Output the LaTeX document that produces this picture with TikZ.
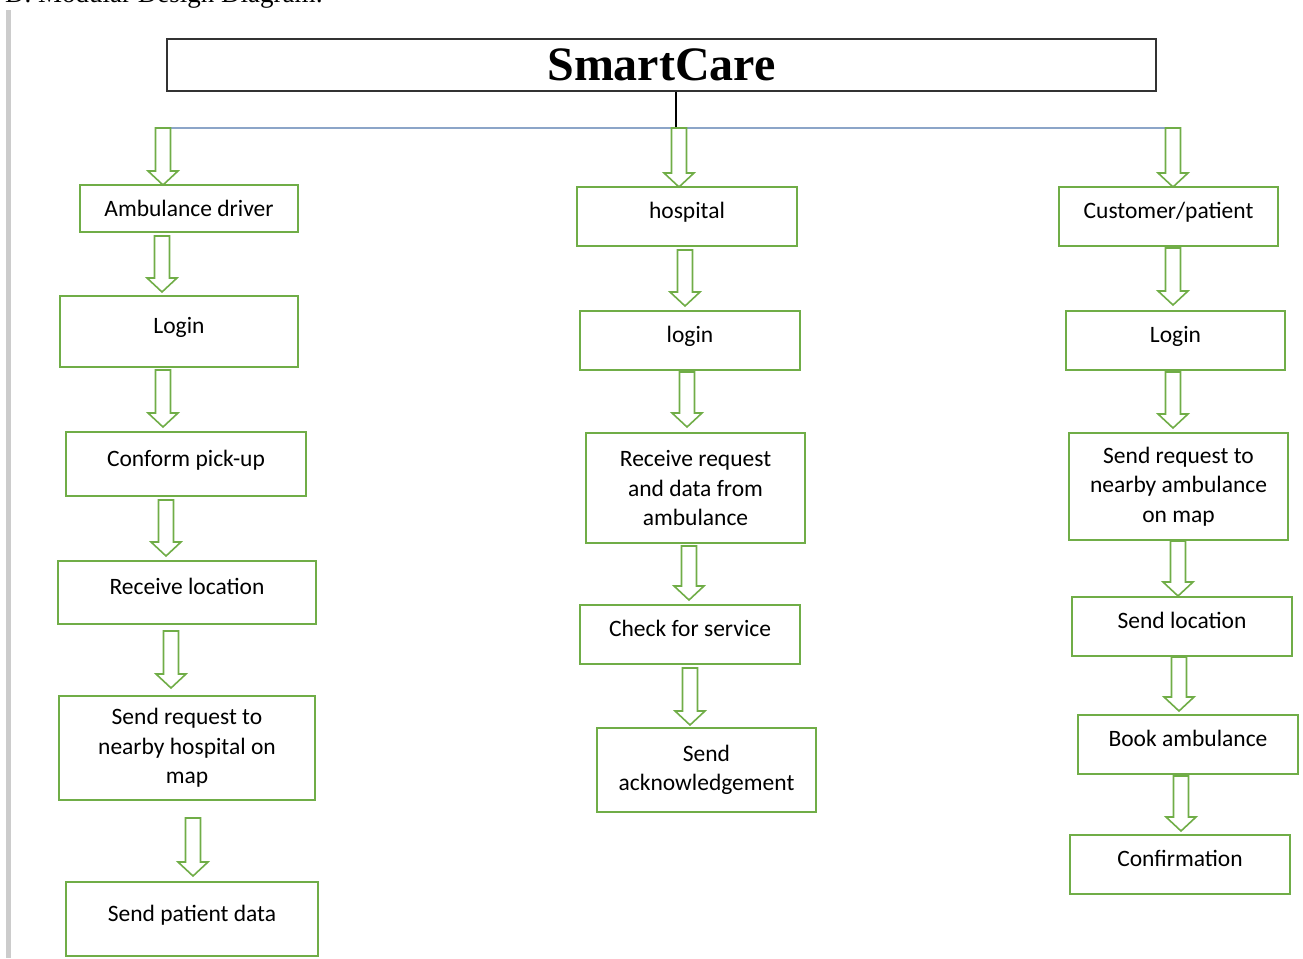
\documentclass[tikz,border=0pt]{standalone}
\usepackage{fontspec}
\setmainfont{Carlito}
\newfontfamily\titlefont{Liberation Serif}
\usepackage{tikz}
\usetikzlibrary{positioning}

\definecolor{boxgreen}{RGB}{112,173,71}
\definecolor{busblue}{RGB}{140,165,200}
\definecolor{margingrey}{RGB}{204,204,204}

% hollow block arrow pointing down: x, top y, tip y
\newcommand{\downarr}[3]{%
  \draw[arrowline] ({#1-7.5},#2) -- ({#1+7.5},#2) -- ({#1+7.5},{#3-14}) -- ({#1+15},{#3-14})
    -- (#1,#3) -- ({#1-15},{#3-14}) -- ({#1-7.5},{#3-14}) -- cycle;}

\tikzset{
  modbox/.style={draw=boxgreen, line width=1.6pt, inner sep=2pt, align=center,
    font=\fontsize{23.5}{29.5}\selectfont},
  onerow/.style={text height=16pt, text depth=12pt},
  arrowline/.style={draw=boxgreen, line width=1.6pt, fill=white, line join=miter},
}

\begin{document}
\begin{tikzpicture}[x=1pt, y=-1pt]
            \useasboundingbox (0,0) rectangle (1303,958);

            % page margin and cut heading
            \fill[margingrey] (6,10) rectangle (11,958);
            \node (caption) [anchor=base west, inner sep=0pt, font=\titlefont\fontsize{27}{30}\selectfont] at (5,3) {D. Modular Design Diagram:};

            % Title box
            \node (title) [draw=black!80, line width=1.3pt, minimum width=989pt, minimum height=52pt,
              font=\titlefont\bfseries\fontsize{48}{50}\selectfont] at (661.5,65) {SmartCare};

            % bus line to the three modules
            \coordinate (bus) at (676,128);
            \draw[line width=1.3pt] (title.south -| bus) -- (bus);
            \draw[busblue, line width=1.3pt] (163,128) -- (1173,128);

            % Ambulance driver module
            \node (drv) [modbox, minimum width=218pt, minimum height=47pt] at (189,208.5) {Ambulance driver};
            \node (drvlogin) [modbox, onerow, minimum width=238pt, minimum height=71pt] at (179,331.5) {Login};
            \node (pickup) [modbox, onerow, minimum width=240pt, minimum height=64pt] at (186,464) {Conform pick-up};
            \node (recvloc) [modbox, onerow, minimum width=258pt, minimum height=63pt] at (187,592.5) {Receive location};
            \node (reqhosp) [modbox, minimum width=256pt, minimum height=104pt] at (187,748) {Send request to\\nearby hospital on\\map};
            \node (patdata) [modbox, onerow, minimum width=252pt, minimum height=74pt] at (192,919) {Send patient data};

            % Hospital module
            \node (hosp) [modbox, onerow, minimum width=220pt, minimum height=59pt] at (687,216.5) {hospital};
            \node (hosplogin) [modbox, onerow, minimum width=220pt, minimum height=59pt] at (690,340.5) {login};
            \node (recvreq) [modbox, minimum width=219pt, minimum height=110pt] at (695.5,488) {Receive request\\and data from\\ambulance};
            \node (service) [modbox, onerow, minimum width=220pt, minimum height=59pt] at (690,634.5) {Check for service};
            \node (ack) [modbox, minimum width=219pt, minimum height=84pt] at (706.5,770) {Send\\acknowledgement};

            % Customer/patient module
            \node (cust) [modbox, onerow, minimum width=219pt, minimum height=59pt] at (1168.5,216.5) {Customer/patient};
            \node (custlogin) [modbox, onerow, minimum width=219pt, minimum height=59pt] at (1175.5,340.5) {Login};
            \node (reqamb) [modbox, minimum width=219pt, minimum height=107pt] at (1178.5,486.5) {Send request to\\nearby ambulance\\on map};
            \node (sendloc) [modbox, onerow, minimum width=220pt, minimum height=59pt] at (1182,626.5) {Send location};
            \node (book) [modbox, onerow, minimum width=220pt, minimum height=59pt] at (1188,744.5) {Book ambulance};
            \node (confirm) [modbox, onerow, minimum width=220pt, minimum height=59pt] at (1180,864.5) {Confirmation};

            % block arrows from the bus
            \downarr{163}{128}{185}
            \downarr{679}{128}{187}
            \downarr{1173}{128}{187}

            % block arrows, left column
            \downarr{162}{236}{292}
            \downarr{163}{370}{427}
            \downarr{166}{500}{556}
            \downarr{171}{631}{688}
            \downarr{193}{818}{876}

            % block arrows, middle column
            \downarr{685}{250}{306}
            \downarr{687}{372}{427}
            \downarr{689}{546}{600}
            \downarr{690}{668}{725}

            % block arrows, right column
            \downarr{1173}{248}{305}
            \downarr{1173}{372}{428}
            \downarr{1178}{541}{596}
            \downarr{1179}{657}{711}
            \downarr{1181}{776}{831}
\end{tikzpicture}
\end{document}
